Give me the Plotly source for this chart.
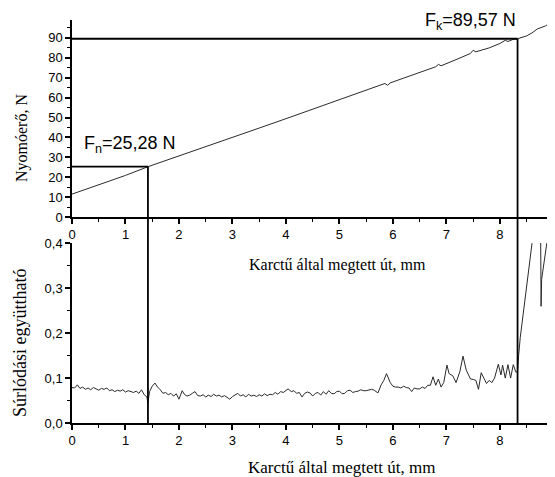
import plotly.graph_objects as go

# ---------- data ----------
# Upper panel: normal (pressing) force, N vs. scratch distance, mm
force_x = [0.0, 0.5, 1.0, 1.42, 2.0, 2.5, 3.0, 3.5, 4.0, 4.5, 5.0, 5.5, 5.85, 5.9, 5.95,
           6.2, 6.5, 6.8, 6.85, 6.9, 7.2, 7.45, 7.5, 7.55, 7.8, 8.0, 8.1, 8.15, 8.25,
           8.33, 8.5, 8.6, 8.7, 8.8, 8.85, 8.95]
force_y = [11.5, 16.2, 20.9, 25.28, 30.8, 35.4, 40.0, 44.7, 49.4, 54.1, 58.8, 63.6, 67.1, 66.2, 67.4,
           69.8, 72.6, 75.5, 76.7, 76.0, 79.3, 82.2, 83.8, 83.0, 85.0, 87.2, 88.8, 88.2, 89.3,
           89.57, 91.0, 92.5, 94.5, 95.6, 96.0, 97.8]

# Lower panel: friction coefficient vs. scratch distance, mm
fric_x = [0.00, 0.05, 0.10, 0.15, 0.20, 0.25, 0.30, 0.35, 0.40, 0.45, 0.50, 0.55, 0.60, 0.65,
          0.70, 0.75, 0.80, 0.85, 0.90, 0.95, 1.00, 1.05, 1.10, 1.15, 1.20, 1.25, 1.30, 1.35,
          1.40, 1.42, 1.45, 1.50, 1.55, 1.60, 1.65, 1.70, 1.75, 1.80, 1.85, 1.90, 1.95, 2.00,
          2.06, 2.10, 2.15, 2.20, 2.25, 2.30, 2.35, 2.40, 2.45, 2.50, 2.55, 2.60, 2.65, 2.70,
          2.75, 2.80, 2.85, 2.90, 2.95, 3.00, 3.05, 3.10, 3.15, 3.20, 3.25, 3.30, 3.35, 3.40,
          3.45, 3.50, 3.55, 3.60, 3.65, 3.70, 3.75, 3.80, 3.85, 3.90, 3.95, 4.04, 4.10, 4.15,
          4.20, 4.25, 4.30, 4.35, 4.40, 4.45, 4.50, 4.55, 4.60, 4.65, 4.70, 4.75, 4.80, 4.85,
          4.90, 4.95, 5.00, 5.05, 5.10, 5.15, 5.20, 5.25, 5.30, 5.35, 5.40, 5.45, 5.50, 5.55,
          5.60, 5.65, 5.72, 5.78, 5.83, 5.88, 5.91, 5.95, 6.00, 6.05, 6.10, 6.15, 6.20, 6.25,
          6.30, 6.35, 6.40, 6.45, 6.50, 6.55, 6.60, 6.65, 6.70, 6.75, 6.80, 6.85, 6.90, 6.95,
          7.01, 7.05, 7.12, 7.18, 7.25, 7.31, 7.37, 7.45, 7.50, 7.55, 7.60, 7.65, 7.70, 7.75,
          7.80, 7.85, 7.90, 7.97, 8.02, 8.05, 8.10, 8.15, 8.20, 8.25, 8.30, 8.33, 8.35, 8.38,
          8.60, 8.62, 8.76, 8.77, 8.78, 8.90, 8.95]
fric_y = [0.079, 0.078, 0.085, 0.077, 0.080, 0.075, 0.078, 0.074, 0.079, 0.076, 0.073, 0.077, 0.075, 0.078,
          0.072, 0.074, 0.070, 0.073, 0.071, 0.074, 0.069, 0.072, 0.070, 0.068, 0.071, 0.066, 0.074, 0.063,
          0.058, 0.045, 0.070, 0.082, 0.089, 0.080, 0.074, 0.066, 0.068, 0.063, 0.066, 0.060, 0.065, 0.053,
          0.072, 0.064, 0.060, 0.062, 0.066, 0.070, 0.061, 0.060, 0.063, 0.058, 0.062, 0.059, 0.064, 0.060,
          0.062, 0.058, 0.061, 0.057, 0.053, 0.059, 0.062, 0.066, 0.060, 0.063, 0.058, 0.064, 0.060, 0.062,
          0.059, 0.063, 0.060, 0.065, 0.061, 0.064, 0.063, 0.068, 0.064, 0.070, 0.068, 0.076, 0.070, 0.072,
          0.066, 0.068, 0.058, 0.066, 0.069, 0.067, 0.060, 0.066, 0.068, 0.062, 0.070, 0.064, 0.072, 0.066,
          0.065, 0.070, 0.071, 0.065, 0.066, 0.072, 0.073, 0.068, 0.070, 0.071, 0.074, 0.072, 0.072, 0.074,
          0.075, 0.073, 0.067, 0.085, 0.095, 0.110, 0.100, 0.090, 0.082, 0.080, 0.080, 0.078, 0.082, 0.079,
          0.078, 0.070, 0.078, 0.076, 0.076, 0.080, 0.077, 0.084, 0.084, 0.103, 0.084, 0.098, 0.080, 0.090,
          0.129, 0.110, 0.105, 0.090, 0.114, 0.149, 0.118, 0.098, 0.097, 0.095, 0.075, 0.112, 0.100, 0.088,
          0.095, 0.090, 0.100, 0.131, 0.107, 0.129, 0.100, 0.130, 0.100, 0.130, 0.113, 0.115, 0.150, 0.190,
          0.400, 0.450, 0.450, 0.260, 0.320, 0.420, 0.500]

# Marked points
fn_x, fn_y, fn_label = 1.42, 25.28, "F<sub>n</sub>=25,28 N"
fk_x, fk_y, fk_label = 8.33, 89.57, "F<sub>k</sub>=89,57 N"

x_title = "Karctű által megtett út, mm"
y1_title = "Nyomóerő, N"
y2_title = "Súrlódási együttható"

# ---------- layout helpers ----------
# the page body adds an 8 px margin, so the figure is 8 px smaller and all
# reference pixel positions are shifted by OFF
OFF = 8
W, H = 555 - OFF, 477 - OFF


def px_x(p):
    return (p - OFF) / W


def px_y(p):
    return 1 - (p - OFF) / H


X_RANGE = [0, 9.03]
Y1_RANGE = [0, 99]
Y2_RANGE = [0, 0.401]
X_DOM = [px_x(72), 1.0]
Y1_DOM = [px_y(217), px_y(20)]
Y2_DOM = [px_y(423), px_y(243)]


def y1_paper(v):
    return Y1_DOM[0] + (v - Y1_RANGE[0]) / (Y1_RANGE[1] - Y1_RANGE[0]) * (Y1_DOM[1] - Y1_DOM[0])


fig = go.Figure()
fig.add_trace(go.Scatter(x=force_x, y=force_y, mode="lines",
                         line=dict(color="#2a2a2a", width=1), xaxis="x", yaxis="y",
                         showlegend=False, hoverinfo="skip"))
fig.add_trace(go.Scatter(x=fric_x, y=fric_y, mode="lines",
                         line=dict(color="#2a2a2a", width=1), xaxis="x2", yaxis="y2",
                         showlegend=False, hoverinfo="skip"))

axis_common = dict(showline=True, linecolor="black", linewidth=1.5, ticks="outside",
                   ticklen=5, tickwidth=1.5, tickcolor="black", showgrid=False, zeroline=False,
                   tickfont=dict(family="Liberation Sans, Arial, sans-serif", size=13, color="black"),
                   automargin=False, ticklabeloverflow="allow")
minor_common = dict(ticks="outside", ticklen=3, tickwidth=1.2, tickcolor="black")

fig.update_layout(
    width=W, height=H,
    margin=dict(l=0, r=0, t=0, b=0),
    paper_bgcolor="white", plot_bgcolor="white",
    separators=", ",
    showlegend=False,
    xaxis=dict(domain=X_DOM, range=X_RANGE, anchor="y", dtick=1, tick0=0,
               minor=dict(dtick=0.5, **minor_common), **axis_common),
    yaxis=dict(domain=Y1_DOM, range=Y1_RANGE, anchor="x", dtick=10, tick0=0,
               minor=dict(dtick=5, **minor_common), **axis_common),
    xaxis2=dict(domain=X_DOM, range=X_RANGE, anchor="y2", dtick=1, tick0=0,
                minor=dict(dtick=0.5, **minor_common), **axis_common),
    yaxis2=dict(domain=Y2_DOM, range=Y2_RANGE, anchor="x2", dtick=0.1, tick0=0, tickformat=".1f",
                minor=dict(dtick=0.05, **minor_common), **axis_common),
)

line_style = dict(color="black", width=1.8)
# horizontal guide lines in upper panel
fig.add_shape(type="line", xref="x", yref="y", x0=0, x1=fn_x, y0=fn_y, y1=fn_y, line=line_style)
fig.add_shape(type="line", xref="x", yref="y", x0=0, x1=fk_x, y0=fk_y, y1=fk_y, line=line_style)
# vertical guide lines spanning both panels
fig.add_shape(type="line", xref="x", yref="paper", x0=fn_x, x1=fn_x,
              y0=Y2_DOM[0], y1=y1_paper(fn_y), line=line_style)
fig.add_shape(type="line", xref="x", yref="paper", x0=fk_x, x1=fk_x,
              y0=Y2_DOM[0], y1=y1_paper(fk_y), line=line_style)

ann_font = dict(family="Liberation Sans, Arial, sans-serif", size=18, color="black")
fig.add_annotation(x=0.18, y=fn_y + 4.5, xref="x", yref="y", text=fn_label, showarrow=False,
                   xanchor="left", yanchor="bottom", font=ann_font)
fig.add_annotation(x=fk_x, y=fk_y + 2.0, xref="x", yref="y", text=fk_label, showarrow=False,
                   xanchor="right", yanchor="bottom", font=ann_font)

serif = "Liberation Serif, Times New Roman, serif"
fig.add_annotation(x=px_x(337), y=px_y(265), xref="paper", yref="paper", text=x_title,
                   showarrow=False, xanchor="center", yanchor="middle",
                   font=dict(family=serif, size=16, color="black"))
fig.add_annotation(x=px_x(341), y=px_y(467), xref="paper", yref="paper", text=x_title,
                   showarrow=False, xanchor="center", yanchor="middle",
                   font=dict(family=serif, size=17, color="black"))
fig.add_annotation(x=px_x(22), y=px_y(138), xref="paper", yref="paper", text=y1_title,
                   showarrow=False, textangle=-90, xanchor="center", yanchor="middle",
                   font=dict(family=serif, size=16, color="black"))
fig.add_annotation(x=px_x(20), y=px_y(343), xref="paper", yref="paper", text=y2_title,
                   showarrow=False, textangle=-90, xanchor="center", yanchor="middle",
                   font=dict(family=serif, size=18, color="black"))

fig.write_html("out.html")
